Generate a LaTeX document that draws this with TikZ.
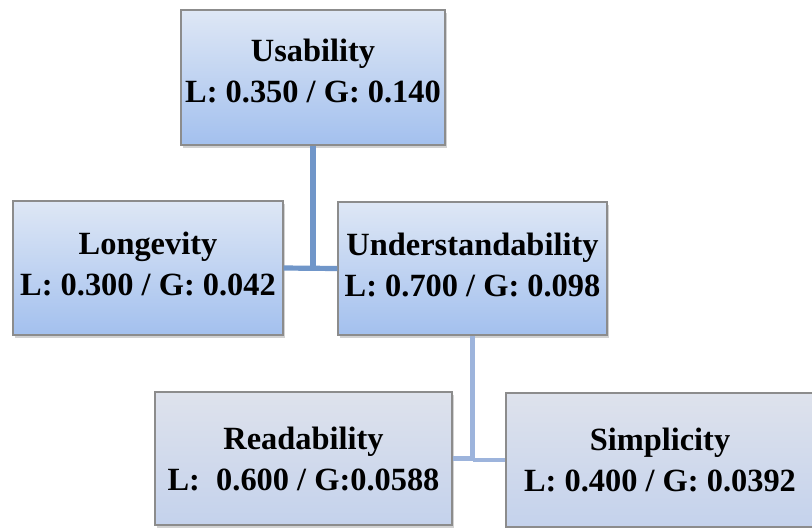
\documentclass[tikz,border=0pt]{standalone}
\usepackage{fontspec}
\setmainfont{Liberation Serif}
\usepackage{tikz}
\usetikzlibrary{shadows,positioning}
\definecolor{boxtop}{RGB}{222,231,245}
\definecolor{boxbot}{RGB}{163,192,238}
\definecolor{lowtop}{RGB}{222,226,236}
\definecolor{lowbot}{RGB}{196,210,236}
\definecolor{boxline}{RGB}{140,140,140}
\definecolor{linkdark}{RGB}{112,150,201}
\definecolor{linklight}{RGB}{157,180,220}
\tikzset{
    % upper boxes
    crit/.style={
        draw=boxline,
        line width=0.6pt,
        top color=boxtop,
        bottom color=boxbot,
        drop shadow={shadow xshift=1.2pt,shadow yshift=-1.5pt,opacity=0.35},
        align=center,
        inner sep=0pt,
        font=\fontsize{16.2}{20.5}\selectfont\bfseries
    },
    % lower boxes
    subcrit/.style={
        crit,
        top color=lowtop,
        bottom color=lowbot
    },
    linkup/.style={line width=2.6pt,linkdark},
    linklow/.style={line width=2.4pt,linklight}
}

\begin{document}
\begin{tikzpicture}[x=0.5pt,y=-0.5pt]
    \clip (0,0) rectangle (812,527);
    \fill[white] (0,0) rectangle (812,527);

    \node[crit,minimum width=132pt,minimum height=67.5pt,text depth=7pt] (use) at (313,77.5)
        {Usability\\L: 0.350 / G: 0.140};
    \node[crit,minimum width=135pt,minimum height=67pt,text depth=4pt] (long) at (148,268)
        {Longevity\\L: 0.300 / G: 0.042};
    \node[crit,minimum width=134.5pt,minimum height=66.5pt,text depth=4pt] (und) at (472.5,268.5)
        {Understandability\\L: 0.700 / G: 0.098};
    \node[subcrit,minimum width=148.5pt,minimum height=66.5pt] (read) at (303.5,458.5)
        {Readability\\L:\ \ 0.600 / G:0.0588};
    \node[subcrit,minimum width=154pt,minimum height=67pt] (simp) at (660,460)
        {Simplicity\\L: 0.400 / G: 0.0392};

    % connectors
    \draw[linkup] (use.south) -- (use.south |- long.east);
    \draw[linkup] (long.east) -- (und.west);
    \draw[linklow] (und.south) -- (und.south |- simp.west);
    \draw[linklow] (read.east) -- (read.east -| und.south);
    \draw[linklow] (read.east -| und.south) ++(0,1.5) -- (simp.west);
\end{tikzpicture}
\end{document}
